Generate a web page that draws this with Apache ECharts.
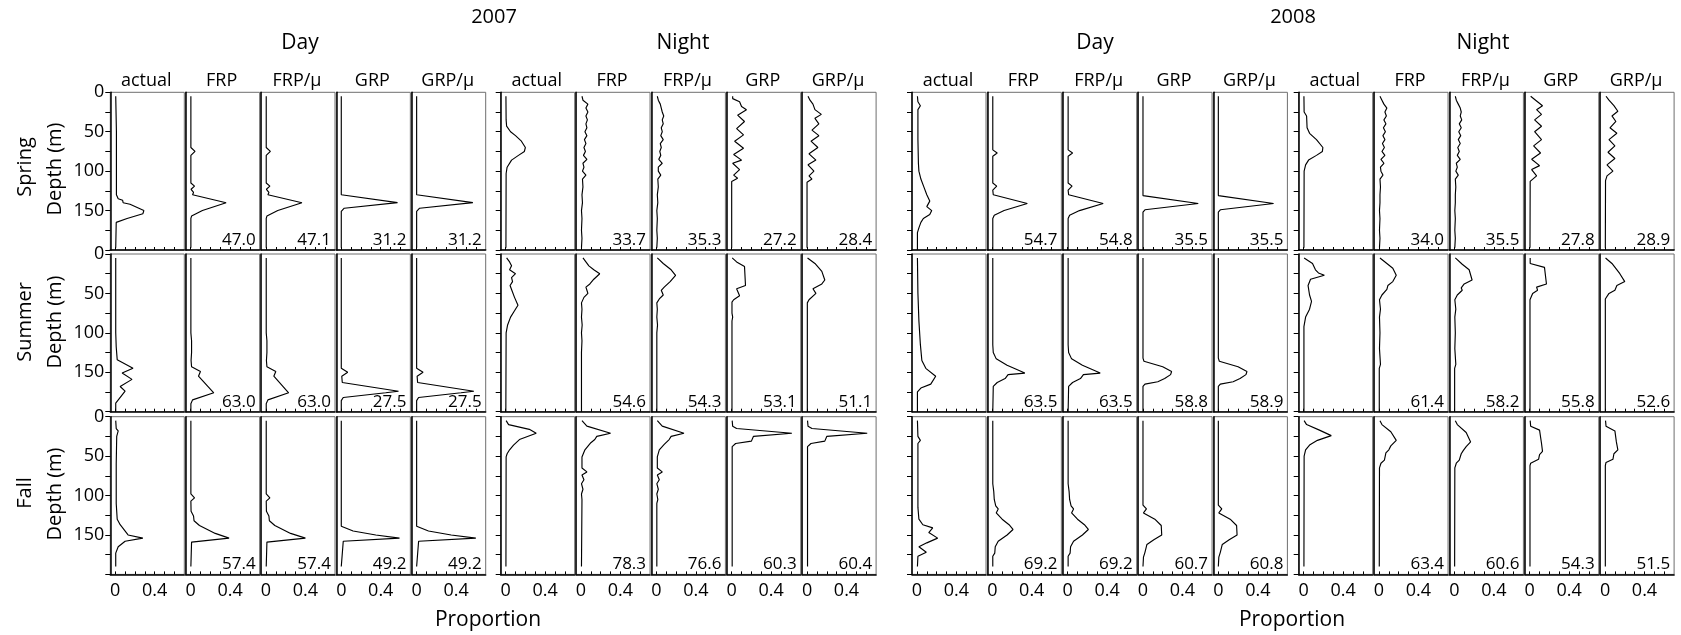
<!DOCTYPE html>
<html>
<head>
<meta charset="utf-8">
<script src="https://cdn.jsdelivr.net/npm/echarts@6/dist/echarts.min.js"></script>
<style>
  html, body { margin: 0; padding: 0; background: #fff; }
  #chart { width: 1681px; height: 635px; }
</style>
</head>
<body>
<div id="chart"></div>
<script>
// Vertical distribution profiles: each profile is a list of [depth (m), proportion] pairs.
const years = ['2007', '2008'];
const periods = ['Day', 'Night'];
const seasons = ['Spring', 'Summer', 'Fall'];
const models = ['actual', 'FRP', 'FRP/\u03bc', 'GRP', 'GRP/\u03bc'];
const depthTicks = [0, 50, 100, 150];
const propTicks = [0, 0.4];
const propMinorTicks = [0, 0.1, 0.2, 0.3, 0.4, 0.5, 0.6];

// ---- 2007 Day ----
const p2007DaySpring = [
  [[5,0.005],[50,0.012],[130,0.012],[135,0.03],[137,0.075],[140,0.08],[142,0.15],[150,0.29],[154,0.28],[160,0.12],[165,0.01],[197,0.005]],
  [[5,0.003],[70,0.003],[75,0.045],[80,0.003],[115,0.003],[119,0.04],[123,0.005],[127,0.03],[130,0.02],[140,0.36],[150,0.12],[157,0.01],[160,0.003],[197,0.003]],
  [[5,0.003],[70,0.003],[75,0.045],[80,0.003],[115,0.003],[119,0.04],[123,0.005],[127,0.03],[130,0.02],[140,0.365],[150,0.12],[157,0.01],[160,0.003],[197,0.003]],
  [[5,0],[130,0],[140,0.57],[147,0.03],[151,0],[197,0]],
  [[5,0],[130,0],[140,0.57],[147,0.03],[151,0],[197,0]]
];
const p2007DaySummer = [
  [[5,0.005],[100,0.005],[118,0.01],[134,0.02],[145,0.18],[151,0.07],[159,0.17],[168,0.05],[174,0.1],[189,0.005],[200,0.005]],
  [[5,0.003],[100,0.003],[110,0.01],[125,0.01],[135,0.005],[143,0.01],[149,0.1],[155,0.08],[176,0.235],[185,0.02],[190,0.003],[200,0.003]],
  [[5,0.003],[100,0.003],[110,0.01],[125,0.01],[135,0.005],[143,0.01],[149,0.1],[155,0.08],[176,0.23],[185,0.02],[190,0.003],[200,0.003]],
  [[5,0],[145,0],[150,0.065],[155,0.005],[163,0.01],[174,0.58],[176,0.45],[182,0.02],[186,0],[200,0]],
  [[5,0],[145,0],[150,0.065],[155,0.005],[163,0.01],[174,0.58],[176,0.45],[182,0.02],[186,0],[200,0]]
];
const p2007DayFall = [
  [[5,0.005],[15,0.01],[18,0.03],[25,0.015],[60,0.01],[110,0.01],[130,0.02],[137,0.05],[150,0.13],[154,0.28],[158,0.1],[165,0.03],[173,0.005],[190,0.005]],
  [[5,0.003],[98,0.003],[103,0.04],[107,0.003],[120,0.005],[126,0.03],[132,0.035],[138,0.09],[148,0.25],[154,0.39],[159,0.01],[190,0.003]],
  [[5,0.003],[98,0.003],[103,0.04],[107,0.003],[120,0.005],[126,0.03],[132,0.035],[138,0.09],[148,0.25],[154,0.4],[159,0.01],[190,0.003]],
  [[5,0],[139,0],[145,0.12],[150,0.35],[154,0.59],[158,0.02],[160,0],[190,0]],
  [[5,0],[139,0],[145,0.12],[150,0.35],[154,0.6],[158,0.02],[160,0],[190,0]]
];

// ---- 2007 Night ----
const p2007NightSpring = [
  [[5,0.003],[35,0.005],[43,0.01],[50,0.05],[55,0.1],[62,0.16],[70,0.2],[75,0.19],[80,0.13],[86,0.06],[95,0.015],[103,0.005],[197,0.003]],
  [[5,0.01],[10,0.02],[15,0.07],[20,0.05],[25,0.07],[30,0.05],[35,0.065],[40,0.05],[45,0.06],[50,0.04],[55,0.06],[60,0.035],[65,0.05],[70,0.03],[75,0.045],[80,0.025],[85,0.06],[90,0.02],[95,0.03],[100,0.015],[105,0.05],[110,0.015],[120,0.02],[130,0.01],[140,0.015],[150,0.005],[160,0.01],[175,0.005],[185,0.01],[197,0.005]],
  [[5,0.01],[10,0.02],[15,0.04],[20,0.05],[25,0.06],[30,0.075],[35,0.06],[40,0.07],[45,0.05],[50,0.06],[55,0.045],[60,0.07],[65,0.04],[70,0.05],[75,0.035],[80,0.045],[85,0.025],[90,0.06],[95,0.02],[100,0.02],[105,0.045],[110,0.015],[120,0.02],[130,0.01],[140,0.015],[150,0.005],[160,0.01],[175,0.005],[185,0.01],[197,0.005]],
  [[5,0.01],[8,0.01],[12,0.08],[18,0.1],[22,0.15],[29,0.06],[37,0.13],[46,0.05],[54,0.12],[62,0.03],[71,0.12],[79,0.02],[86,0.1],[90,0.01],[98,0.08],[105,0.02],[109,0.06],[113,0],[197,0]],
  [[5,0.01],[10,0.03],[15,0.06],[22,0.08],[28,0.145],[33,0.08],[40,0.12],[48,0.05],[55,0.12],[62,0.04],[70,0.11],[78,0.02],[86,0.09],[92,0.01],[100,0.07],[106,0.02],[110,0.05],[114,0],[197,0]]
];
const p2007NightSummer = [
  [[5,0.01],[10,0.04],[15,0.06],[20,0.04],[25,0.1],[30,0.06],[35,0.07],[40,0.045],[45,0.06],[55,0.09],[65,0.125],[72,0.09],[80,0.05],[90,0.02],[100,0.005],[200,0.002]],
  [[5,0.02],[10,0.05],[15,0.08],[20,0.13],[25,0.19],[32,0.13],[38,0.09],[42,0.05],[46,0.06],[50,0.07],[55,0.03],[62,0.005],[70,0.01],[80,0.005],[90,0.012],[100,0.005],[110,0.01],[125,0.005],[200,0.005]],
  [[5,0.01],[12,0.07],[20,0.15],[27,0.195],[35,0.14],[42,0.08],[46,0.05],[52,0.07],[57,0.03],[62,0.005],[70,0.01],[80,0.005],[90,0.012],[100,0.005],[200,0.005]],
  [[5,0.005],[10,0.05],[16,0.13],[40,0.14],[44,0.05],[53,0.08],[58,0.02],[61,0.003],[75,0.003],[80,0.01],[85,0.003],[200,0.003]],
  [[5,0.005],[12,0.08],[22,0.15],[33,0.18],[38,0.15],[44,0.06],[50,0.09],[58,0.02],[62,0.003],[200,0.003]]
];
const p2007NightFall = [
  [[5,0.005],[10,0.03],[16,0.24],[21,0.31],[29,0.14],[36,0.08],[42,0.04],[47,0.015],[51,0.005],[190,0.003]],
  [[5,0.01],[12,0.06],[21,0.3],[25,0.16],[29,0.14],[33,0.1],[42,0.04],[51,0.01],[65,0.01],[70,0.06],[74,0.01],[80,0.03],[85,0.005],[92,0.02],[98,0.005],[105,0.01],[190,0.005]],
  [[5,0.01],[12,0.06],[21,0.28],[25,0.15],[29,0.13],[35,0.08],[42,0.03],[51,0.01],[65,0.01],[70,0.06],[74,0.01],[80,0.03],[85,0.005],[92,0.02],[98,0.005],[105,0.015],[110,0.005],[190,0.005]],
  [[5,0.005],[12,0.01],[15,0.05],[21,0.61],[25,0.22],[31,0.2],[34,0.04],[38,0.005],[190,0.005]],
  [[5,0.005],[12,0.01],[15,0.05],[21,0.61],[25,0.2],[31,0.18],[34,0.04],[38,0.005],[190,0.005]]
];

// ---- 2008 Day ----
const p2008DaySpring = [
  [[5,0.005],[12,0.01],[17,0.035],[22,0.01],[60,0.01],[90,0.015],[100,0.02],[110,0.04],[120,0.07],[130,0.1],[138,0.13],[145,0.1],[150,0.15],[155,0.13],[160,0.065],[165,0.04],[172,0.02],[178,0.005],[200,0.005]],
  [[5,0.005],[73,0.005],[77,0.05],[81,0.005],[115,0.005],[119,0.045],[124,0.005],[130,0.01],[141,0.355],[150,0.12],[156,0.02],[160,0.005],[200,0.005]],
  [[5,0.005],[73,0.005],[77,0.05],[81,0.005],[115,0.005],[119,0.045],[124,0.005],[130,0.01],[141,0.36],[150,0.12],[156,0.02],[160,0.005],[200,0.005]],
  [[5,0],[131,0],[141,0.56],[149,0.02],[152,0],[200,0]],
  [[5,0],[131,0],[141,0.56],[149,0.02],[152,0],[200,0]]
];
const p2008DaySummer = [
  [[5,0.005],[50,0.01],[85,0.02],[115,0.035],[135,0.05],[145,0.09],[155,0.19],[165,0.14],[170,0.04],[175,0.005],[200,0.005]],
  [[5,0.005],[115,0.005],[125,0.01],[133,0.04],[141,0.15],[151,0.33],[153,0.16],[158,0.13],[163,0.05],[168,0.01],[200,0.005]],
  [[5,0.005],[115,0.005],[125,0.01],[133,0.04],[141,0.15],[151,0.33],[153,0.16],[158,0.13],[163,0.05],[168,0.01],[200,0.005]],
  [[5,0],[132,0],[136,0.01],[143,0.2],[149,0.29],[153,0.28],[158,0.22],[162,0.15],[165,0.02],[168,0],[200,0]],
  [[5,0],[132,0],[136,0.01],[143,0.2],[149,0.29],[153,0.28],[158,0.22],[162,0.15],[165,0.02],[168,0],[200,0]]
];
const p2008DayFall = [
  [[5,0.005],[25,0.01],[30,0.035],[34,0.01],[80,0.01],[115,0.01],[130,0.02],[137,0.06],[141,0.16],[147,0.12],[154,0.21],[160,0.1],[165,0.02],[172,0.095],[177,0.01],[190,0.005]],
  [[5,0.005],[85,0.005],[95,0.015],[105,0.02],[113,0.035],[117,0.06],[122,0.04],[130,0.1],[137,0.17],[143,0.21],[150,0.15],[158,0.06],[165,0.03],[173,0.025],[177,0.005],[190,0.005]],
  [[5,0.005],[85,0.005],[95,0.015],[105,0.02],[113,0.035],[117,0.06],[122,0.04],[130,0.1],[137,0.17],[143,0.21],[150,0.15],[158,0.06],[165,0.03],[173,0.025],[177,0.005],[190,0.005]],
  [[5,0],[112,0],[117,0.035],[122,0.005],[130,0.12],[138,0.185],[150,0.19],[156,0.11],[162,0.04],[172,0.02],[178,0.005],[190,0]],
  [[5,0],[112,0],[117,0.035],[122,0.005],[130,0.12],[138,0.185],[150,0.19],[156,0.11],[162,0.04],[172,0.02],[178,0.005],[190,0]]
];

// ---- 2008 Night ----
const p2008NightSpring = [
  [[5,0.003],[25,0.005],[30,0.03],[45,0.035],[52,0.06],[60,0.13],[70,0.195],[75,0.19],[80,0.13],[86,0.05],[92,0.02],[100,0.005],[197,0.003]],
  [[5,0.01],[10,0.03],[15,0.05],[20,0.08],[25,0.06],[30,0.075],[35,0.05],[40,0.07],[45,0.045],[50,0.065],[55,0.04],[60,0.06],[65,0.035],[70,0.055],[75,0.03],[80,0.06],[85,0.02],[90,0.05],[95,0.015],[100,0.02],[105,0.04],[110,0.01],[120,0.015],[130,0.01],[140,0.01],[150,0.005],[160,0.01],[175,0.005],[185,0.01],[197,0.005]],
  [[5,0.01],[10,0.02],[15,0.04],[20,0.06],[25,0.07],[30,0.06],[35,0.075],[40,0.05],[45,0.07],[50,0.045],[55,0.065],[60,0.04],[65,0.06],[70,0.035],[75,0.05],[80,0.03],[85,0.06],[90,0.02],[95,0.03],[100,0.015],[105,0.04],[110,0.01],[120,0.015],[130,0.01],[140,0.01],[150,0.005],[160,0.01],[175,0.005],[185,0.01],[197,0.005]],
  [[5,0.01],[10,0.06],[17,0.13],[22,0.07],[28,0.12],[35,0.05],[43,0.12],[50,0.05],[60,0.12],[68,0.04],[77,0.11],[85,0.02],[93,0.1],[98,0.02],[106,0.07],[113,0.005],[197,0.003]],
  [[5,0.01],[10,0.04],[17,0.09],[24,0.13],[30,0.07],[37,0.11],[45,0.05],[52,0.12],[60,0.04],[68,0.1],[76,0.03],[84,0.1],[92,0.02],[100,0.08],[106,0.02],[112,0.005],[197,0.003]]
];
const p2008NightSummer = [
  [[5,0.005],[12,0.09],[20,0.12],[24,0.15],[27,0.21],[32,0.07],[40,0.045],[52,0.06],[60,0.08],[70,0.06],[80,0.02],[92,0.003],[200,0.003]],
  [[5,0.01],[12,0.08],[18,0.14],[27,0.175],[35,0.14],[40,0.09],[45,0.08],[52,0.03],[58,0.005],[70,0.015],[80,0.005],[100,0.01],[120,0.005],[140,0.015],[145,0.003],[200,0.003]],
  [[5,0.01],[13,0.08],[20,0.15],[33,0.18],[38,0.1],[43,0.07],[46,0.08],[52,0.03],[58,0.005],[70,0.015],[80,0.005],[100,0.01],[120,0.005],[140,0.015],[145,0.003],[200,0.003]],
  [[5,0.005],[12,0.005],[17,0.15],[38,0.17],[42,0.07],[46,0.08],[50,0.03],[58,0.003],[200,0.003]],
  [[5,0.005],[12,0.07],[25,0.15],[35,0.2],[40,0.12],[46,0.1],[50,0.04],[57,0.003],[200,0.003]]
];
const p2008NightFall = [
  [[5,0.005],[10,0.03],[17,0.16],[24,0.28],[30,0.14],[36,0.06],[42,0.02],[50,0.005],[190,0.003]],
  [[5,0.01],[10,0.03],[19,0.12],[30,0.175],[37,0.12],[42,0.1],[46,0.07],[55,0.055],[59,0.02],[65,0.005],[190,0.003]],
  [[5,0.01],[10,0.03],[20,0.12],[32,0.165],[38,0.12],[43,0.09],[47,0.07],[55,0.05],[59,0.02],[65,0.005],[190,0.003]],
  [[5,0.005],[12,0.01],[17,0.1],[34,0.12],[44,0.13],[48,0.1],[54,0.09],[59,0.01],[62,0.003],[190,0.003]],
  [[5,0.005],[12,0.01],[18,0.1],[32,0.115],[42,0.13],[47,0.09],[54,0.08],[58,0.01],[62,0.003],[190,0.003]]
];

// Fit scores printed in each model panel (rows: Spring, Summer, Fall; columns: FRP, FRP/μ, GRP, GRP/μ)
const scores2007Day   = [['47.0','47.1','31.2','31.2'], ['63.0','63.0','27.5','27.5'], ['57.4','57.4','49.2','49.2']];
const scores2007Night = [['33.7','35.3','27.2','28.4'], ['54.6','54.3','53.1','51.1'], ['78.3','76.6','60.3','60.4']];
const scores2008Day   = [['54.7','54.8','35.5','35.5'], ['63.5','63.5','58.8','58.9'], ['69.2','69.2','60.7','60.8']];
const scores2008Night = [['34.0','35.5','27.8','28.9'], ['61.4','58.2','55.8','52.6'], ['63.4','60.6','54.3','51.5']];

const groups = [
  { rows: [p2007DaySpring, p2007DaySummer, p2007DayFall], scores: scores2007Day, period: periods[0] },
  { rows: [p2007NightSpring, p2007NightSummer, p2007NightFall], scores: scores2007Night, period: periods[1] },
  { rows: [p2008DaySpring, p2008DaySummer, p2008DayFall], scores: scores2008Day, period: periods[0] },
  { rows: [p2008NightSpring, p2008NightSummer, p2008NightFall], scores: scores2008Night, period: periods[1] }
];

// ---- layout ----
const FONT = '"Open Sans", "Noto Sans", sans-serif';
const INK = '#000';
const groupLeft = [110.3, 500.7, 912, 1298.7];
const rowTop = [92.3, 254, 416.7];
const panelStep = 75.35, panelW = 74, rowH = 157.7;
const periodCenterX = [300, 683, 1095, 1483];
const yearCenterX = [494, 1293];
const seasonCenterY = [167, 322, 493];
const depthLabelCenterY = [169, 322, 494];
const proportionCenterX = [488, 1292];

const grids = [], xAxes = [], yAxes = [], series = [], graphics = [];

function label(text, x, y, size, extra) {
  return Object.assign({
    type: 'text', silent: true,
    style: {
      text: text, x: x, y: y, align: 'center', verticalAlign: 'middle',
      textAlign: 'center', textVerticalAlign: 'middle', fill: INK, fontSize: size, fontFamily: FONT
    }
  }, extra || {});
}

groups.forEach((g, gi) => {
  g.rows.forEach((profiles, ri) => {
    profiles.forEach((prof, ci) => {
      const idx = grids.length;
      const left = groupLeft[gi] + ci * panelStep;
      const top = rowTop[ri];
      grids.push({
        left: left, top: top, width: panelW, height: rowH,
        show: true, borderColor: '#6e6e6e', borderWidth: 1, backgroundColor: 'transparent'
      });
      xAxes.push({
        gridIndex: idx, type: 'value', min: -0.05, max: 0.7,
        axisLine: { show: true, onZero: false, lineStyle: { color: '#000', width: 1.5 } },
        axisTick: { show: true, inside: true, length: 3, customValues: propMinorTicks, lineStyle: { color: '#000', width: 1 } },
        axisLabel: { show: ri === 2, customValues: propTicks, margin: 7, color: INK, fontSize: 18, fontFamily: FONT },
        splitLine: { show: false }
      });
      const firstCol = ci === 0;
      yAxes.push({
        gridIndex: idx, type: 'value', inverse: true, min: 0, max: 200, interval: 50,
        axisLine: { show: true, onZero: false, lineStyle: { color: '#000', width: 1.5 } },
        axisTick: { show: firstCol, inside: false, length: 5, lineStyle: { color: '#000', width: 1 } },
        minorTick: { show: firstCol, splitNumber: 2, length: 5, lineStyle: { color: '#000', width: 1 } },
        axisLabel: {
          show: firstCol && gi === 0, margin: 6, color: INK, fontSize: 18, fontFamily: FONT,
          formatter: v => (depthTicks.indexOf(v) >= 0 ? String(v) : '')
        },
        splitLine: { show: false }, minorSplitLine: { show: false }
      });
      series.push({
        type: 'line', xAxisIndex: idx, yAxisIndex: idx,
        data: prof.map(p => [p[1], p[0]]),
        showSymbol: false, symbol: 'none', silent: true,
        lineStyle: { color: '#000', width: 1.15 }
      });
      if (ci > 0) {
        graphics.push({
          type: 'text', silent: true,
          style: {
            text: g.scores[ri][ci - 1], x: left + panelW - 4, y: top + rowH - 10,
            align: 'right', verticalAlign: 'middle', textAlign: 'right', textVerticalAlign: 'middle',
            fill: INK, fontSize: 17, fontFamily: FONT
          }
        });
      }
      if (ri === 0) {
        graphics.push(label(models[ci], left + panelW / 2 - 1, 80.7, 18));
      }
    });
  });
  graphics.push(label(g.period, periodCenterX[gi], 43, 21));
});

years.forEach((y, i) => {
  graphics.push(label(y, yearCenterX[i], 17, 20));
  graphics.push(label('Proportion', proportionCenterX[i], 620, 21));
});

seasons.forEach((s, i) => {
  const rot = { x: 25, y: seasonCenterY[i], rotation: Math.PI / 2 };
  const l1 = label(s, 0, 0, 20, rot);
  graphics.push(l1);
  const l2 = label('Depth (m)', 0, 0, 20, { x: 55, y: depthLabelCenterY[i], rotation: Math.PI / 2 });
  graphics.push(l2);
});

const chart = echarts.init(document.getElementById('chart'), null, { renderer: 'canvas' });
chart.setOption({
  animation: false,
  backgroundColor: '#fff',
  grid: grids,
  xAxis: xAxes,
  yAxis: yAxes,
  series: series,
  graphic: { elements: graphics }
});
</script>
</body>
</html>
